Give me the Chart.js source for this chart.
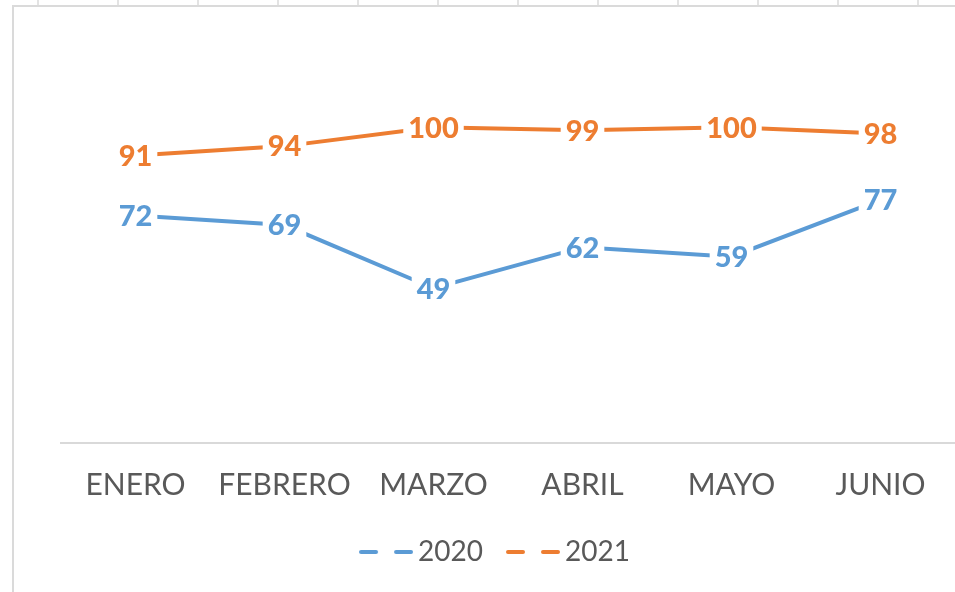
<!DOCTYPE html>
<html>
<head>
<meta charset="utf-8">
<script src="https://cdn.jsdelivr.net/npm/chart.js@4/dist/chart.umd.min.js"></script>
<style>
  html, body { margin: 0; padding: 0; background: #fff; overflow: hidden; }
  #cols {
    position: absolute; left: 0; top: 0; width: 955px; height: 5px;
    background: repeating-linear-gradient(to right, transparent 0 37px, #e3e3e3 37px 39px, transparent 39px 80px);
  }
  #frame {
    position: absolute; left: 12px; top: 5px; width: 950px; height: 600px;
    border-top: 2px solid #dadada; border-left: 2px solid #dadada;
  }
  #wrap { position: absolute; left: 0; top: 0; width: 955px; height: 592px; }
</style>
</head>
<body>
<div id="cols"></div>
<div id="frame"></div>
<div id="wrap"><canvas id="chart" width="955" height="592"></canvas></div>
<script>
const months = ['ENERO', 'FEBRERO', 'MARZO', 'ABRIL', 'MAYO', 'JUNIO'];
const values2020 = [72, 69, 49, 62, 59, 77];
const values2021 = [91, 94, 100, 99, 100, 98];

const blue = '#5B9BD5';
const orange = '#ED7D31';

// legend marker: two short dashes like the Excel legend
function dashMarker(color) {
    const c = document.createElement('canvas');
    c.width = 54;
    c.height = 6;
    const g = c.getContext('2d');
    g.strokeStyle = color;
    g.lineWidth = 4;
    g.lineCap = 'round';
    g.beginPath();
    g.moveTo(2, 3); g.lineTo(17, 3);
    g.moveTo(37, 3); g.lineTo(52, 3);
    g.stroke();
    return c;
}

// value labels centred on the points, on a white box
const valueLabels = {
    id: 'valueLabels',
    afterDatasetsDraw(chart) {
        const ctx = chart.ctx;
        ctx.save();
        ctx.font = '900 29px Lato';
        ctx.textAlign = 'center';
        ctx.textBaseline = 'middle';
        chart.data.datasets.forEach((ds, i) => {
            const meta = chart.getDatasetMeta(i);
            meta.data.forEach((pt, j) => {
                const txt = String(ds.data[j]);
                const w = ctx.measureText(txt).width + 10;
                ctx.fillStyle = '#fff';
                ctx.fillRect(pt.x - w / 2, pt.y - 14, w, 28);
                ctx.fillStyle = ds.borderColor;
                ctx.fillText(txt, pt.x, pt.y + 1);
            });
        });
        ctx.restore();
    }
};

new Chart(document.getElementById('chart'), {
    type: 'line',
    data: {
        labels: months,
        datasets: [
            { label: '2020', data: values2020, borderColor: blue, backgroundColor: blue, borderWidth: 4, pointRadius: 0, tension: 0, marker: dashMarker(blue) },
            { label: '2021', data: values2021, borderColor: orange, backgroundColor: orange, borderWidth: 4, pointRadius: 0, tension: 0, marker: dashMarker(orange) }
        ]
    },
    options: {
        responsive: false,
        animation: false,
        layout: { padding: { left: 43, right: 0, top: 64, bottom: 16 } },
        scales: {
            x: {
                offset: true,
                grid: { display: false, drawTicks: false },
                border: { color: '#d9d9d9', width: 2 },
                ticks: { color: '#595959', font: { family: 'Lato', size: 30 }, padding: 24, maxRotation: 0 },
                afterFit: s => { s.height = 63; }
            },
            y: {
                min: 0,
                max: 120,
                grid: { display: false },
                border: { display: false },
                ticks: { display: false },
                afterFit: s => { s.width = 18; }
            }
        },
        plugins: {
            tooltip: { enabled: false },
            legend: {
                position: 'bottom',
                labels: {
                    color: '#595959',
                    font: { family: 'Lato', size: 28 },
                    padding: 32,
                    usePointStyle: true,
                    pointStyleWidth: 36,
                    generateLabels: chart => chart.data.datasets.map((ds, i) => ({
                        text: ds.label,
                        pointStyle: ds.marker,
                        fontColor: '#595959',
                        strokeStyle: ds.borderColor,
                        fillStyle: ds.borderColor,
                        lineWidth: 0,
                        datasetIndex: i
                    }))
                }
            }
        }
    },
    plugins: [valueLabels]
});
</script>
</body>
</html>
